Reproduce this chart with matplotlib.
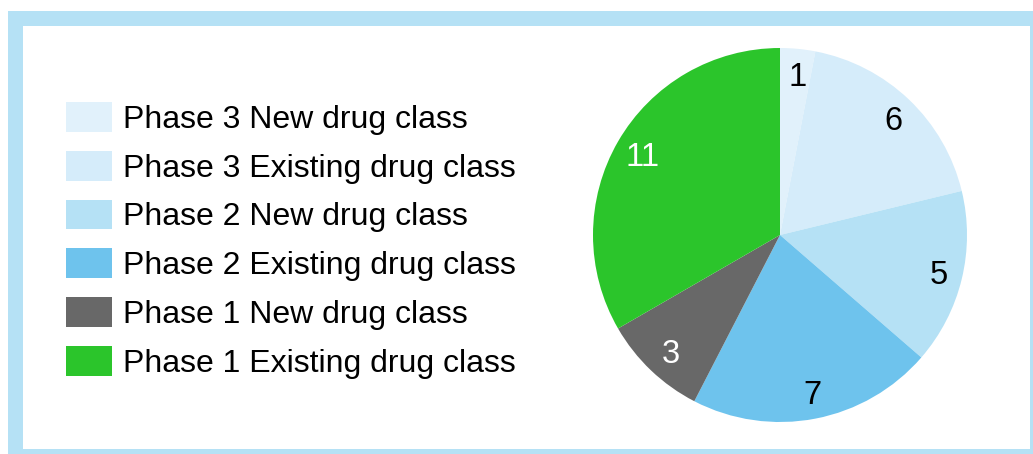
import matplotlib.pyplot as plt
from matplotlib.patches import Rectangle, Patch

plt.rcParams['font.family'] = ['Liberation Sans', 'DejaVu Sans']

categories = ['Phase 3 New drug class', 'Phase 3 Existing drug class',
              'Phase 2 New drug class', 'Phase 2 Existing drug class',
              'Phase 1 New drug class', 'Phase 1 Existing drug class']
counts = [1, 6, 5, 7, 3, 11]
colors = ['#E1F1FB', '#D5ECFA', '#B5E1F5', '#6EC3ED', '#686868', '#2BC52B']
label_colors = ['black', 'black', 'black', 'black', 'white', 'white']

W, H = 1033, 454
fig = plt.figure(figsize=(W / 100, H / 100), dpi=100)

def px_rect(x0, y0, x1, y1, color):
    # pixel box (top-left origin) -> figure fraction
    fig.patches.append(Rectangle((x0 / W, 1 - y1 / H), (x1 - x0) / W, (y1 - y0) / H,
                                 transform=fig.transFigure, facecolor=color,
                                 edgecolor='none', zorder=-10))

px_rect(8, 11, W, H, '#B5E1F5')
px_rect(23, 26, 1030, 449, 'white')

# pie centred at (780, 235) px, radius 187 px
cx, cy, r = 780, 235, 187
ax = fig.add_axes([(cx - r) / W, 1 - (cy + r) / H, 2 * r / W, 2 * r / H])
total = sum(counts)
wedges, texts, autotexts = ax.pie(counts, colors=colors, startangle=90, counterclock=False,
                                  autopct=lambda p: '%d' % round(p * total / 100),
                                  pctdistance=0.86,
                                  wedgeprops=dict(linewidth=0),
                                  textprops=dict(fontsize=23.5))
for t, c in zip(autotexts, label_colors):
    t.set_color(c)
    x, y = t.get_position()
    t.set_position((x + 0.012, y - 0.015))
ax.set_xlim(-1, 1)
ax.set_ylim(-1, 1)
ax.set_aspect('auto')
ax.axis('off')

handles = [Patch(facecolor=c, edgecolor='none') for c in colors]
fig.legend(handles, categories, loc='upper left', bbox_to_anchor=(66 / W, 1 - 102 / H),
           frameon=False, fontsize=23, handlelength=1.44, handleheight=1.06,
           handletextpad=0.34, labelspacing=0.5, borderpad=0, borderaxespad=0)

fig.savefig('out.png', dpi=100)
